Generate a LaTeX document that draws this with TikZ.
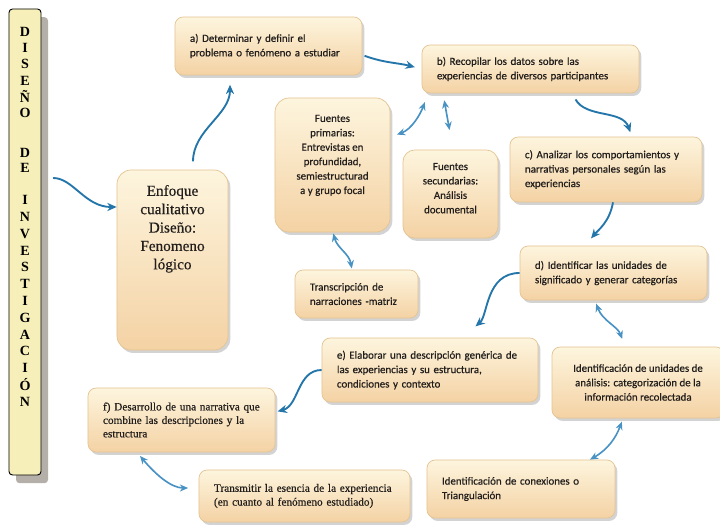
\documentclass[tikz,border=0pt]{standalone}
\usepackage{fontspec}
\setmainfont{Carlito}[FakeBold=0.5]
\newfontfamily\tnr{Liberation Serif}[FakeBold=0.4]
\newfontfamily\tnrb{Liberation Serif Bold}
\usetikzlibrary{arrows.meta,shadows}
\definecolor{flecha}{RGB}{36,118,170}
\definecolor{flechaclara}{RGB}{72,146,196}
\definecolor{borde}{RGB}{228,196,146}
\definecolor{arriba}{RGB}{253,245,222}
\definecolor{abajo}{RGB}{244,210,164}
\definecolor{texto}{RGB}{34,30,28}
\definecolor{barrafondo}{RGB}{247,239,186}
\definecolor{sombra}{RGB}{180,175,168}
\begin{document}
\begin{tikzpicture}[x=0.03cm,y=0.03cm,
  paso/.style={draw=borde, line width=0.6pt, rounded corners=7pt, top color=arriba, bottom color=abajo,
    drop shadow={shadow xshift=2pt, shadow yshift=-2.5pt, opacity=0.35}, text=texto,
    font=\fontsize{9.3}{12.3}\selectfont, align=left, inner xsep=0.45cm, inner ysep=3pt},
  centro/.style={paso, align=center, inner xsep=3pt},
  letra/.style={font=\tnrb\fontsize{12}{12}\selectfont, text=black, inner sep=0pt},
  flow/.style={-{Stealth[length=8pt,width=7pt]}, line width=1.6pt, draw=flecha},
  doble/.style={{Stealth[length=7pt,width=6pt]}-{Stealth[length=7pt,width=6pt]}, line width=1.4pt, draw=flechaclara}]
\useasboundingbox (0,0) rectangle (720,524);

\node[draw=black, line width=0.8pt, rounded corners=3pt, fill=barrafondo,
  drop shadow={shadow xshift=6pt, shadow yshift=-7pt, fill=sombra, opacity=1},
  minimum width=0.96cm, minimum height=13.98cm] (bar) at (25,282) {};
\foreach \l [count=\k from 0] in {D,I,S,E,Ñ,O}
  \node[letra] (p1-\k) at (25,{492-16.2*\k}) {\l};
\foreach \l [count=\k from 0] in {D,E}
  \node[letra] (p2-\k) at (25,{371-14.5*\k}) {\l};
\foreach \l [count=\k from 0] in {I,N,V,E,S,T,I,G,A,C,I,Ó,N}
  \node[letra] (p3-\k) at (25,{324-16.8*\k}) {\l};

\node[paso, rounded corners=12pt, align=center, inner xsep=3pt, font=\tnr\fontsize{13}{15.7}\selectfont,
  minimum width=3.33cm, minimum height=5.4cm, text depth=56pt] (enf) at (172.5,264)
  {Enfoque\\cualitativo\\Diseño:\\Fenomeno\\lógico};
\node[paso, text width=4.71cm, minimum height=1.74cm] (a) at (268.5,478)
  {a)\ Determinar y definir el\\problema o fenómeno a estudiar};
\node[paso, text width=5.61cm, minimum height=1.44cm] (b) at (530.5,455)
  {b) Recopilar los datos sobre las\\experiencias de diversos participantes};
\node[paso, text width=4.86cm, minimum height=1.95cm] (c) at (606,354.5)
  {c) Analizar los comportamientos y\\narrativas personales según las\\experiencias};
\node[centro, rounded corners=12pt, minimum width=3.45cm, minimum height=4.02cm, text depth=18pt] (prim) at (332.5,359)
  {Fuentes\\primarias:\\Entrevistas en\\profundidad,\\semiestructurad\\a y grupo focal};
\node[centro, rounded corners=10pt, minimum width=2.85cm, minimum height=2.64cm, text depth=10pt] (sec) at (450.5,330)
  {Fuentes\\secundarias:\\Análisis\\documental};
\node[paso, text width=2.79cm, minimum height=1.44cm] (trans) at (356.5,230)
  {Transcripción de\\narraciones -matriz};
\node[paso, text width=4.71cm, minimum height=1.62cm] (d) at (613.5,251)
  {d) Identificar las unidades de\\significado y generar categorías};
\node[centro, minimum width=5.16cm, minimum height=2.13cm] (idu) at (638,141.5)
  {Identificación de unidades de\\análisis: categorización de la\\información recolectada};
\node[paso, text width=4.74cm, minimum height=1.74cm] (idc) at (521,35)
  {Identificación de conexiones o\\Triangulación};
\node[paso, text width=5.58cm, minimum height=1.92cm] (e) at (430,154)
  {e) Elaborar una descripción genérica de\\las experiencias y su estructura,\\condiciones y contexto};
\node[paso, font=\tnr\fontsize{9.6}{11.5}\selectfont, text width=4.71cm, minimum height=1.92cm] (f) at (181.5,104)
  {f) Desarrollo de una narrativa que\\combine las descripciones y la\\estructura};
\node[paso, font=\tnr\fontsize{9.6}{11.8}\selectfont, text width=5.43cm, minimum height=1.56cm] (tr) at (304.5,28)
  {Transmitir la esencia de la experiencia\\(en cuanto al fenómeno estudiado)};

\draw[flow, shorten <=10pt] (bar.east |- 0,346) to[out=0,in=180] (enf.west |- 0,317);
\draw[flow, shorten <=7pt, shorten >=8pt] (enf.north -| 193,0) to[out=90,in=-90] (a.south -| 230,0);
\draw[flow, shorten <=2pt, shorten >=6pt] (a.east |- 0,469) to[out=-20,in=165] (b.west);
\draw[doble, shorten <=6pt, shorten >=8pt] (prim.east |- 0,387) to[out=20,in=-110] (b.south -| 428,0);
\draw[doble, shorten <=6pt, shorten >=17pt] (b.south -| 443,0) to[out=-80,in=100] (sec.north -| 453,0);
\draw[flow, shorten <=6pt, shorten >=4pt] (b.south -| 572,0) to[out=-60,in=110] (c.north -| 632,0);
\draw[flow, shorten >=8pt] (c.south -| 613,0) to[out=-100,in=50] (d.north -| 585,0);
\draw[flow, shorten >=15pt] (d.west) to[out=180,in=40] (e.north -| 462,0);
\draw[doble, shorten <=3pt, shorten >=7pt] (d.south -| 595,0) to[out=-70,in=110] (idu.north -| 625,0);
\draw[doble, shorten <=3pt] (idu.south -| 623,0) to[out=-110,in=30] (idc.north -| 590,0);
\draw[flow, shorten >=2pt] (e.west) to[out=180,in=15] (f.east |- 0,112);
\draw[doble, shorten <=4pt, shorten >=9pt] (f.south -| 137,0) to[out=-50,in=180] (tr.west |- 0,36);
\draw[doble, shorten <=1pt, shorten >=1pt] (prim.south -| 333,0) to[out=-75,in=100] (trans.north -| 352,0);

\end{tikzpicture}
\end{document}
